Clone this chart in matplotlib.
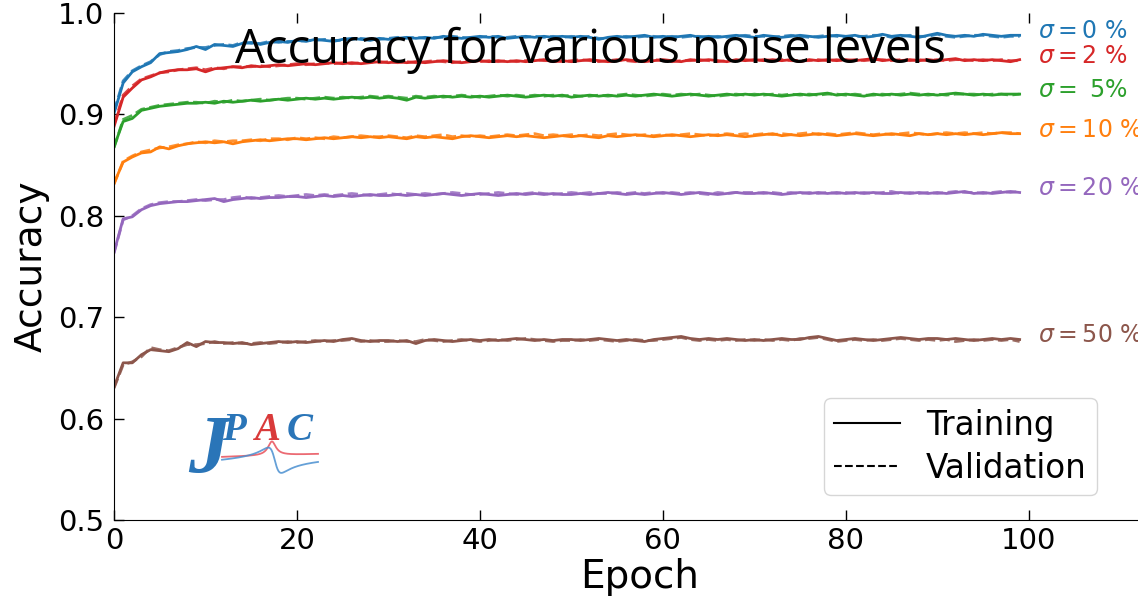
import numpy as np
import matplotlib
matplotlib.use("Agg")
import matplotlib.pyplot as plt
from matplotlib.lines import Line2D

epochs = list(range(100))

labels = [r"$\sigma = 0\ \%$", r"$\sigma = 2\ \%$", r"$\sigma=$ 5%",
          r"$\sigma = 10\ \%$", r"$\sigma = 20\ \%$", r"$\sigma = 50\ \%$"]
colors = ["#1f77b4", "#d62728", "#2ca02c", "#ff7f0e", "#9467bd", "#8c564b"]

train_0 = [0.901, 0.931, 0.942, 0.947, 0.951, 0.960, 0.961, 0.962, 0.964, 0.967,
           0.964, 0.969, 0.968, 0.967, 0.970, 0.971, 0.969, 0.971, 0.972, 0.971,
           0.973, 0.972, 0.974, 0.973, 0.972, 0.974, 0.975, 0.974, 0.973, 0.975,
           0.974, 0.975, 0.976, 0.975, 0.976, 0.975, 0.977, 0.976, 0.975, 0.976,
           0.977, 0.976, 0.977, 0.975, 0.976, 0.977, 0.976, 0.977, 0.976, 0.977,
           0.976, 0.977, 0.976, 0.974, 0.976, 0.977, 0.976, 0.977, 0.978, 0.976,
           0.977, 0.976, 0.977, 0.978, 0.976, 0.977, 0.976, 0.977, 0.978, 0.977,
           0.976, 0.978, 0.977, 0.976, 0.977, 0.978, 0.977, 0.976, 0.977, 0.978,
           0.977, 0.978, 0.976, 0.977, 0.979, 0.977, 0.978, 0.977, 0.976, 0.978,
           0.980, 0.978, 0.977, 0.978, 0.977, 0.979, 0.978, 0.977, 0.978, 0.978]
val_0 = [0.903, 0.933, 0.943, 0.948, 0.952, 0.959, 0.962, 0.963, 0.965, 0.966,
         0.966, 0.968, 0.969, 0.968, 0.971, 0.970, 0.970, 0.972, 0.971, 0.972,
         0.972, 0.973, 0.973, 0.974, 0.973, 0.973, 0.974, 0.975, 0.974, 0.974,
         0.975, 0.976, 0.975, 0.976, 0.975, 0.976, 0.976, 0.977, 0.976, 0.975,
         0.976, 0.977, 0.976, 0.976, 0.977, 0.976, 0.977, 0.976, 0.977, 0.976,
         0.977, 0.976, 0.977, 0.975, 0.975, 0.976, 0.977, 0.976, 0.977, 0.977,
         0.976, 0.977, 0.976, 0.977, 0.977, 0.976, 0.977, 0.976, 0.977, 0.978,
         0.977, 0.977, 0.976, 0.977, 0.978, 0.977, 0.976, 0.977, 0.978, 0.977,
         0.976, 0.977, 0.977, 0.978, 0.978, 0.976, 0.977, 0.978, 0.977, 0.977,
         0.979, 0.977, 0.976, 0.977, 0.978, 0.978, 0.977, 0.976, 0.977, 0.977]

train_2 = [0.888, 0.917, 0.926, 0.934, 0.937, 0.941, 0.943, 0.944, 0.944, 0.945,
           0.942, 0.945, 0.946, 0.947, 0.946, 0.948, 0.947, 0.948, 0.949, 0.948,
           0.949, 0.950, 0.949, 0.950, 0.951, 0.950, 0.951, 0.950, 0.951, 0.952,
           0.951, 0.952, 0.951, 0.952, 0.951, 0.952, 0.953, 0.952, 0.951, 0.952,
           0.953, 0.952, 0.953, 0.952, 0.953, 0.952, 0.953, 0.954, 0.952, 0.953,
           0.952, 0.953, 0.954, 0.953, 0.952, 0.953, 0.954, 0.953, 0.952, 0.953,
           0.954, 0.953, 0.952, 0.954, 0.953, 0.954, 0.953, 0.952, 0.954, 0.953,
           0.954, 0.953, 0.954, 0.953, 0.954, 0.952, 0.954, 0.953, 0.954, 0.953,
           0.954, 0.953, 0.954, 0.955, 0.953, 0.954, 0.953, 0.954, 0.953, 0.954,
           0.953, 0.954, 0.955, 0.953, 0.954, 0.953, 0.954, 0.953, 0.952, 0.954]
val_2 = [0.890, 0.919, 0.928, 0.935, 0.938, 0.941, 0.942, 0.944, 0.945, 0.946,
         0.944, 0.946, 0.945, 0.947, 0.947, 0.947, 0.948, 0.947, 0.948, 0.949,
         0.950, 0.949, 0.950, 0.951, 0.950, 0.951, 0.950, 0.951, 0.952, 0.951,
         0.952, 0.951, 0.952, 0.951, 0.952, 0.953, 0.952, 0.951, 0.952, 0.953,
         0.952, 0.953, 0.952, 0.953, 0.952, 0.953, 0.954, 0.953, 0.953, 0.952,
         0.953, 0.954, 0.953, 0.952, 0.953, 0.954, 0.953, 0.952, 0.953, 0.954,
         0.953, 0.952, 0.953, 0.953, 0.954, 0.953, 0.952, 0.953, 0.953, 0.954,
         0.953, 0.954, 0.953, 0.954, 0.953, 0.953, 0.953, 0.954, 0.953, 0.954,
         0.953, 0.954, 0.953, 0.954, 0.954, 0.953, 0.954, 0.953, 0.954, 0.953,
         0.954, 0.953, 0.954, 0.954, 0.953, 0.954, 0.953, 0.954, 0.953, 0.953]

train_5 = [0.868, 0.893, 0.896, 0.904, 0.906, 0.908, 0.909, 0.910, 0.911, 0.911,
           0.912, 0.911, 0.913, 0.912, 0.913, 0.914, 0.913, 0.914, 0.915, 0.914,
           0.915, 0.916, 0.915, 0.916, 0.915, 0.916, 0.917, 0.916, 0.917, 0.916,
           0.917, 0.916, 0.914, 0.917, 0.916, 0.917, 0.918, 0.917, 0.918, 0.917,
           0.918, 0.917, 0.918, 0.919, 0.918, 0.917, 0.918, 0.919, 0.918, 0.919,
           0.917, 0.918, 0.919, 0.918, 0.919, 0.918, 0.919, 0.918, 0.919, 0.920,
           0.919, 0.918, 0.919, 0.920, 0.919, 0.918, 0.919, 0.920, 0.919, 0.920,
           0.919, 0.920, 0.919, 0.918, 0.919, 0.920, 0.919, 0.920, 0.921, 0.919,
           0.920, 0.919, 0.918, 0.920, 0.919, 0.920, 0.919, 0.920, 0.919, 0.920,
           0.919, 0.920, 0.921, 0.920, 0.919, 0.920, 0.919, 0.920, 0.920, 0.920]
val_5 = [0.867, 0.895, 0.899, 0.905, 0.907, 0.909, 0.910, 0.911, 0.912, 0.912,
         0.911, 0.913, 0.912, 0.914, 0.913, 0.914, 0.915, 0.914, 0.915, 0.916,
         0.916, 0.915, 0.916, 0.917, 0.916, 0.917, 0.916, 0.917, 0.918, 0.917,
         0.918, 0.917, 0.916, 0.918, 0.917, 0.918, 0.917, 0.918, 0.919, 0.918,
         0.917, 0.918, 0.919, 0.918, 0.919, 0.918, 0.919, 0.918, 0.919, 0.918,
         0.919, 0.918, 0.918, 0.919, 0.918, 0.919, 0.920, 0.919, 0.918, 0.919,
         0.920, 0.919, 0.920, 0.919, 0.920, 0.919, 0.918, 0.919, 0.920, 0.919,
         0.920, 0.919, 0.920, 0.919, 0.920, 0.919, 0.920, 0.919, 0.920, 0.920,
         0.919, 0.920, 0.919, 0.919, 0.920, 0.919, 0.920, 0.921, 0.920, 0.919,
         0.920, 0.919, 0.920, 0.920, 0.920, 0.919, 0.920, 0.920, 0.919, 0.920]

train_10 = [0.832, 0.853, 0.858, 0.862, 0.863, 0.868, 0.866, 0.869, 0.871, 0.872,
            0.873, 0.872, 0.873, 0.871, 0.873, 0.874, 0.875, 0.874, 0.875, 0.876,
            0.876, 0.875, 0.876, 0.877, 0.876, 0.877, 0.878, 0.877, 0.878, 0.877,
            0.878, 0.877, 0.876, 0.878, 0.877, 0.878, 0.877, 0.876, 0.878, 0.879,
            0.878, 0.877, 0.878, 0.879, 0.878, 0.879, 0.878, 0.877, 0.878, 0.879,
            0.878, 0.879, 0.878, 0.877, 0.879, 0.878, 0.879, 0.880, 0.879, 0.878,
            0.879, 0.880, 0.879, 0.878, 0.879, 0.880, 0.879, 0.880, 0.879, 0.878,
            0.879, 0.880, 0.881, 0.879, 0.880, 0.879, 0.880, 0.881, 0.880, 0.879,
            0.880, 0.881, 0.880, 0.879, 0.880, 0.881, 0.880, 0.879, 0.881, 0.880,
            0.881, 0.880, 0.881, 0.880, 0.881, 0.880, 0.881, 0.882, 0.881, 0.881]
val_10 = [0.831, 0.854, 0.859, 0.863, 0.865, 0.867, 0.868, 0.870, 0.871, 0.873,
          0.872, 0.874, 0.873, 0.874, 0.874, 0.875, 0.874, 0.876, 0.876, 0.875,
          0.877, 0.876, 0.877, 0.876, 0.878, 0.877, 0.878, 0.879, 0.878, 0.878,
          0.879, 0.878, 0.877, 0.879, 0.878, 0.879, 0.880, 0.878, 0.879, 0.878,
          0.879, 0.878, 0.879, 0.880, 0.879, 0.880, 0.881, 0.879, 0.880, 0.879,
          0.880, 0.879, 0.880, 0.879, 0.880, 0.881, 0.880, 0.879, 0.880, 0.879,
          0.880, 0.879, 0.880, 0.881, 0.880, 0.879, 0.880, 0.881, 0.880, 0.881,
          0.880, 0.881, 0.880, 0.881, 0.880, 0.881, 0.882, 0.880, 0.881, 0.880,
          0.881, 0.882, 0.881, 0.880, 0.881, 0.880, 0.881, 0.882, 0.881, 0.880,
          0.881, 0.882, 0.881, 0.882, 0.881, 0.882, 0.881, 0.882, 0.882, 0.881]

train_20 = [0.764, 0.797, 0.799, 0.806, 0.810, 0.812, 0.813, 0.814, 0.814, 0.815,
            0.816, 0.817, 0.814, 0.816, 0.817, 0.818, 0.817, 0.818, 0.818, 0.819,
            0.819, 0.818, 0.819, 0.820, 0.819, 0.820, 0.819, 0.820, 0.821, 0.820,
            0.820, 0.821, 0.820, 0.821, 0.820, 0.821, 0.822, 0.821, 0.820, 0.821,
            0.822, 0.821, 0.820, 0.821, 0.822, 0.821, 0.822, 0.821, 0.822, 0.821,
            0.821, 0.822, 0.821, 0.822, 0.823, 0.822, 0.821, 0.822, 0.821, 0.822,
            0.823, 0.822, 0.821, 0.822, 0.823, 0.822, 0.821, 0.822, 0.823, 0.822,
            0.822, 0.823, 0.822, 0.821, 0.822, 0.823, 0.822, 0.823, 0.822, 0.823,
            0.822, 0.823, 0.822, 0.823, 0.822, 0.822, 0.823, 0.822, 0.823, 0.822,
            0.823, 0.822, 0.823, 0.824, 0.822, 0.823, 0.822, 0.823, 0.824, 0.823]
val_20 = [0.763, 0.796, 0.800, 0.807, 0.811, 0.813, 0.814, 0.814, 0.815, 0.816,
          0.815, 0.816, 0.816, 0.818, 0.819, 0.817, 0.818, 0.819, 0.820, 0.819,
          0.820, 0.821, 0.820, 0.821, 0.820, 0.821, 0.822, 0.821, 0.820, 0.821,
          0.822, 0.821, 0.822, 0.821, 0.822, 0.821, 0.822, 0.823, 0.822, 0.821,
          0.821, 0.822, 0.823, 0.822, 0.821, 0.822, 0.823, 0.822, 0.821, 0.822,
          0.823, 0.822, 0.823, 0.822, 0.822, 0.823, 0.822, 0.823, 0.822, 0.823,
          0.822, 0.823, 0.822, 0.823, 0.822, 0.821, 0.823, 0.822, 0.823, 0.823,
          0.823, 0.822, 0.823, 0.822, 0.823, 0.822, 0.823, 0.822, 0.823, 0.822,
          0.823, 0.822, 0.823, 0.822, 0.823, 0.824, 0.822, 0.823, 0.822, 0.823,
          0.822, 0.823, 0.824, 0.823, 0.823, 0.822, 0.823, 0.824, 0.823, 0.824]

train_50 = [0.631, 0.655, 0.655, 0.663, 0.668, 0.667, 0.666, 0.669, 0.675, 0.671,
            0.676, 0.675, 0.675, 0.674, 0.675, 0.673, 0.674, 0.675, 0.676, 0.675,
            0.676, 0.675, 0.676, 0.677, 0.676, 0.678, 0.679, 0.677, 0.676, 0.677,
            0.677, 0.676, 0.677, 0.674, 0.677, 0.678, 0.677, 0.676, 0.677, 0.678,
            0.677, 0.678, 0.677, 0.678, 0.679, 0.678, 0.677, 0.678, 0.677, 0.678,
            0.678, 0.677, 0.678, 0.679, 0.678, 0.677, 0.678, 0.677, 0.676, 0.678,
            0.679, 0.680, 0.681, 0.679, 0.678, 0.679, 0.678, 0.679, 0.678, 0.677,
            0.678, 0.677, 0.678, 0.679, 0.678, 0.678, 0.680, 0.681, 0.679, 0.677,
            0.678, 0.679, 0.678, 0.677, 0.678, 0.679, 0.680, 0.679, 0.678, 0.679,
            0.679, 0.678, 0.679, 0.678, 0.677, 0.678, 0.679, 0.678, 0.679, 0.678]
val_50 = [0.630, 0.653, 0.656, 0.661, 0.670, 0.668, 0.667, 0.670, 0.673, 0.673,
          0.674, 0.676, 0.674, 0.675, 0.674, 0.674, 0.675, 0.674, 0.675, 0.676,
          0.675, 0.676, 0.677, 0.676, 0.677, 0.677, 0.678, 0.676, 0.677, 0.676,
          0.676, 0.677, 0.676, 0.676, 0.678, 0.677, 0.676, 0.677, 0.678, 0.677,
          0.676, 0.677, 0.678, 0.677, 0.678, 0.679, 0.678, 0.677, 0.676, 0.677,
          0.677, 0.678, 0.677, 0.678, 0.677, 0.676, 0.677, 0.678, 0.677, 0.677,
          0.678, 0.679, 0.680, 0.678, 0.677, 0.678, 0.677, 0.678, 0.677, 0.678,
          0.677, 0.678, 0.677, 0.678, 0.677, 0.679, 0.679, 0.680, 0.678, 0.676,
          0.677, 0.678, 0.677, 0.678, 0.677, 0.678, 0.679, 0.678, 0.677, 0.678,
          0.677, 0.678, 0.676, 0.677, 0.678, 0.677, 0.678, 0.677, 0.678, 0.676]

train_sets = [train_0, train_2, train_5, train_10, train_20, train_50]
val_sets = [val_0, val_2, val_5, val_10, val_20, val_50]

title = "Accuracy for various noise levels"
xlabel = "Epoch"
ylabel = "Accuracy"
legend_labels = ["Training", "Validation"]
xticks = [0, 20, 40, 60, 80, 100]
yticks = [0.5, 0.6, 0.7, 0.8, 0.9, 1.0]

fig = plt.figure(figsize=(11.38, 5.97), dpi=100)
# axes extends slightly past the right edge of the figure (cropped look)
ax = fig.add_axes([114/1138, 1-520/597, (1166-114)/1138, (520-13)/597])

for tr, va, c, lab in zip(train_sets, val_sets, colors, labels):
    ax.plot(epochs, tr, color=c, lw=2.0, ls='-')
    ax.plot(epochs, va, color=c, lw=2.0, ls='--', alpha=0.85)
    ax.text(101.0, tr[-1] + 0.004, lab, color=c, fontsize=17, va='center', ha='left')

ax.set_xlim(0, 115)
ax.set_ylim(0.5, 1.0)
ax.set_xticks(xticks)
ax.set_yticks(yticks)
ax.set_yticklabels([f"{v:.1f}" for v in yticks])
ax.spines['top'].set_visible(False)
ax.spines['right'].set_visible(False)
ax.tick_params(direction='in', length=7, width=1, top=True, right=False,
               labelsize=21)
ax.tick_params(axis='y', pad=7)
ax.tick_params(axis='x', pad=5)
ax.set_xlabel(xlabel, fontsize=28, labelpad=2)
ax.set_ylabel(ylabel, fontsize=27, labelpad=6)

handles = [Line2D([], [], color='black', lw=1.5, ls='-'),
           Line2D([], [], color='black', lw=1.5, ls='--')]
ax.legend(handles, legend_labels, loc='lower right',
          bbox_to_anchor=((1097-114)/1052, 25/507), borderaxespad=0, fontsize=23.5,
          handlelength=2.0, labelspacing=0.3, borderpad=0.32, handletextpad=0.8)

fig.text(590/1138, 1-63/597, title, fontsize=34, family='Open Sans',
         ha='center', va='baseline', zorder=10)

# JPAC logo (decorative)
lax = fig.add_axes([185/1138, 1-478/597, 140/1138, 70/597])
lax.set_xlim(0, 140)
lax.set_ylim(0, 70)
lax.axis('off')
t = np.linspace(0, 1, 300)
red_curve = 21 + 3 * t + 14 * 0.05**2 / ((t - 0.52)**2 + 0.05**2)
blue_curve = 15 + 5 * t + 26 * (0.55 - t) * 0.07 / ((0.55 - t)**2 + 0.07**2)
lax.plot(37 + 96 * t, red_curve, color='#e8505a', lw=1.3, alpha=0.85)
lax.plot(37 + 96 * t, blue_curve, color='#4a8fd0', lw=1.3, alpha=0.85)
lax.text(3, 6, "J", fontsize=60, family='Liberation Serif', weight='bold',
         style='italic', color='#2a75b8', ha='left', va='baseline')
lax.text(37, 38, "P", fontsize=28, family='Liberation Serif', weight='bold',
         style='italic', color='#2a75b8')
lax.text(69, 38, "A", fontsize=28, family='Liberation Serif', weight='bold',
         style='italic', color='#d93a3a')
lax.text(102, 38, "C", fontsize=28, family='Liberation Serif', weight='bold',
         style='italic', color='#2a75b8')

fig.savefig("out.png", dpi=100)
